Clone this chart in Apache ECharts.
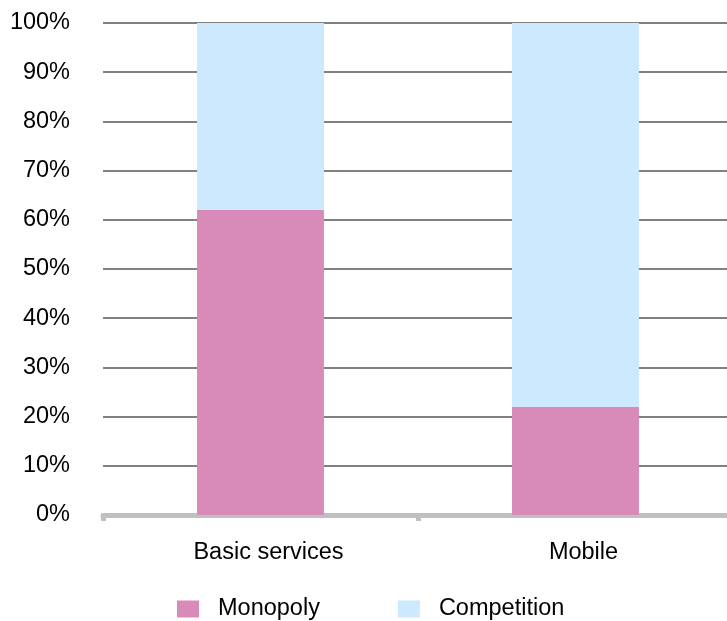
<!DOCTYPE html>
<html>
<head>
<meta charset="utf-8">
<script src="https://cdn.jsdelivr.net/npm/echarts@6/dist/echarts.min.js"></script>
<style>html,body{margin:0;padding:0;background:#fff;}#chart{width:727px;height:621px;}</style>
</head>
<body>
<div id="chart"></div>
<script>
const categories = ["Basic services", "Mobile"];
const monopoly = [62, 22];
const competition = [38, 78];
const yTicks = [0, 10, 20, 30, 40, 50, 60, 70, 80, 90, 100];

const chart = echarts.init(document.getElementById('chart'));
const font = '"Liberation Sans", Arial, sans-serif';
chart.setOption({
  animation: false,
  backgroundColor: '#ffffff',
  grid: { left: 103, width: 630, top: 23, height: 492, containLabel: false, outerBoundsMode: 'none' },
  legend: {
    data: ['Monopoly', 'Competition'],
    top: 592,
    left: 172,
    itemWidth: 22,
    itemHeight: 17,
    itemGap: 78,
    icon: 'rect',
    textStyle: { fontFamily: font, fontSize: 23.5, color: '#000', padding: [0, 0, 0, 14] }
  },
  xAxis: {
    type: 'category',
    data: categories,
    axisLine: { lineStyle: { color: '#c0c0c0', width: 5 } },
    axisTick: { show: true, length: 6, lineStyle: { color: '#c0c0c0', width: 5 } },
    axisLabel: { fontFamily: font, fontSize: 23.5, color: '#000', margin: 26, padding: [0, 0, 0, 16] },
    splitLine: { show: false }
  },
  yAxis: {
    type: 'value',
    min: 0,
    max: 100,
    interval: 10,
    axisLine: { show: false },
    axisTick: { show: false },
    axisLabel: { fontFamily: font, fontSize: 23.5, color: '#000', margin: 33, formatter: v => yTicks.includes(v) ? v + '%' : '' },
    splitLine: { lineStyle: { color: '#808080', width: 2 } }
  },
  series: [
    { name: 'Monopoly', type: 'bar', stack: 'a', data: monopoly, barWidth: '40.3%', itemStyle: { color: '#d88bb9' } },
    { name: 'Competition', type: 'bar', stack: 'a', data: competition, barWidth: '40.3%', itemStyle: { color: '#cce9fe' } }
  ]
});
</script>
</body>
</html>
